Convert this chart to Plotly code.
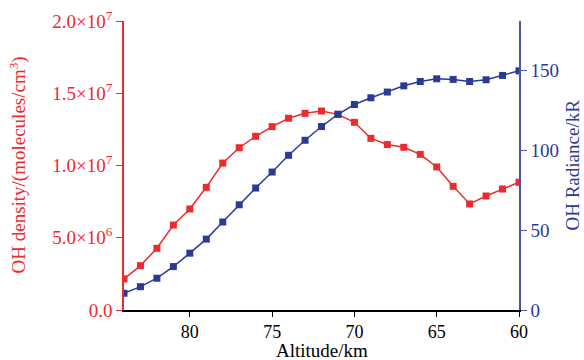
import plotly.graph_objects as go

altitude = [84, 83, 82, 81, 80, 79, 78, 77, 76, 75, 74, 73, 72, 71, 70,
            69, 68, 67, 66, 65, 64, 63, 62, 61, 60]
oh_density = [2.15e6, 3.07e6, 4.27e6, 5.88e6, 6.99e6, 8.49e6, 10.17e6, 11.23e6,
              12.02e6, 12.69e6, 13.27e6, 13.61e6, 13.77e6, 13.54e6, 12.99e6,
              11.88e6, 11.45e6, 11.26e6, 10.77e6, 9.90e6, 8.56e6, 7.34e6,
              7.89e6, 8.37e6, 8.84e6]
oh_radiance = [10.5, 14.6, 19.9, 27.2, 35.6, 44.4, 55.1, 65.9, 76.4, 86.4,
               96.9, 106.3, 114.9, 122.6, 128.7, 132.9, 136.5, 140.4, 143.1,
               144.8, 144.4, 143.1, 144.2, 146.9, 149.8]

x_ticks = [80, 75, 70, 65, 60]
left_ticks = [0, 5e6, 1e7, 1.5e7, 2e7]
left_ticktext = ["0.0", "5.0×10<sup>6</sup>", "1.0×10<sup>7</sup>",
                 "1.5×10<sup>7</sup>", "2.0×10<sup>7</sup>"]
right_ticks = [0, 50, 100, 150]

RED = "#ee2a2c"
BLUE = "#2b3a97"
FONT = "Liberation Serif"
FS = 19

fig = go.Figure()
fig.add_trace(go.Scatter(
    x=altitude, y=oh_density, mode="lines+markers",
    line=dict(color=RED, width=1.5),
    marker=dict(symbol="square", size=7, color=RED),
    yaxis="y", showlegend=False))
fig.add_trace(go.Scatter(
    x=altitude, y=oh_radiance, mode="lines+markers",
    line=dict(color=BLUE, width=1.5),
    marker=dict(symbol="square", size=7, color=BLUE),
    yaxis="y2", showlegend=False))

fig.update_layout(
    width=584, height=360,
    margin=dict(l=124, r=65, t=21, b=50),
    paper_bgcolor="white", plot_bgcolor="white",
    font=dict(family=FONT, size=FS, color="black"),
    xaxis=dict(
        range=[84, 60], tickvals=x_ticks, ticks="outside", ticklen=5,
        tickcolor="black", showline=True, linecolor="black", linewidth=1.5,
        showgrid=False, zeroline=False, automargin=False,
        tickfont=dict(family=FONT, size=18, color="black"),
    ),
    yaxis=dict(
        range=[0, 2e7], tickvals=left_ticks, ticktext=left_ticktext,
        ticks="outside", ticklen=6, tickcolor=RED,
        showline=True, linecolor=RED, linewidth=1.5,
        showgrid=False, zeroline=False, automargin=False,
        tickfont=dict(family=FONT, size=FS, color=RED),
    ),
    yaxis2=dict(
        range=[0, 181], tickvals=right_ticks, overlaying="y", side="right",
        ticks="outside", ticklen=6, tickcolor="#4a55a5",
        showline=True, linecolor="#4a55a5", linewidth=1.5,
        showgrid=False, zeroline=False, automargin=False,
        tickfont=dict(family=FONT, size=FS, color=BLUE),
    ),
    annotations=[
        dict(text="Altitude/km", xref="paper", yref="paper", x=0.5, y=0,
             xanchor="center", yanchor="middle", yshift=-40, showarrow=False,
             font=dict(family=FONT, size=FS, color="black")),
        dict(text="OH density/(molecules/cm<sup>3</sup>)", xref="paper",
             yref="paper", x=0, y=0.5, xanchor="center", yanchor="middle",
             xshift=-106, textangle=-90, showarrow=False,
             font=dict(family=FONT, size=FS, color=RED)),
        dict(text="OH Radiance/kR", xref="paper", yref="paper", x=1, y=0.5,
             xanchor="center", yanchor="middle", xshift=53, textangle=-90,
             showarrow=False, font=dict(family=FONT, size=FS, color=BLUE)),
    ],
)

fig.write_html("out.html",
               config={"displayModeBar": False},
               post_script="document.body.style.margin='0';"
                           "document.body.style.overflow='hidden';")
